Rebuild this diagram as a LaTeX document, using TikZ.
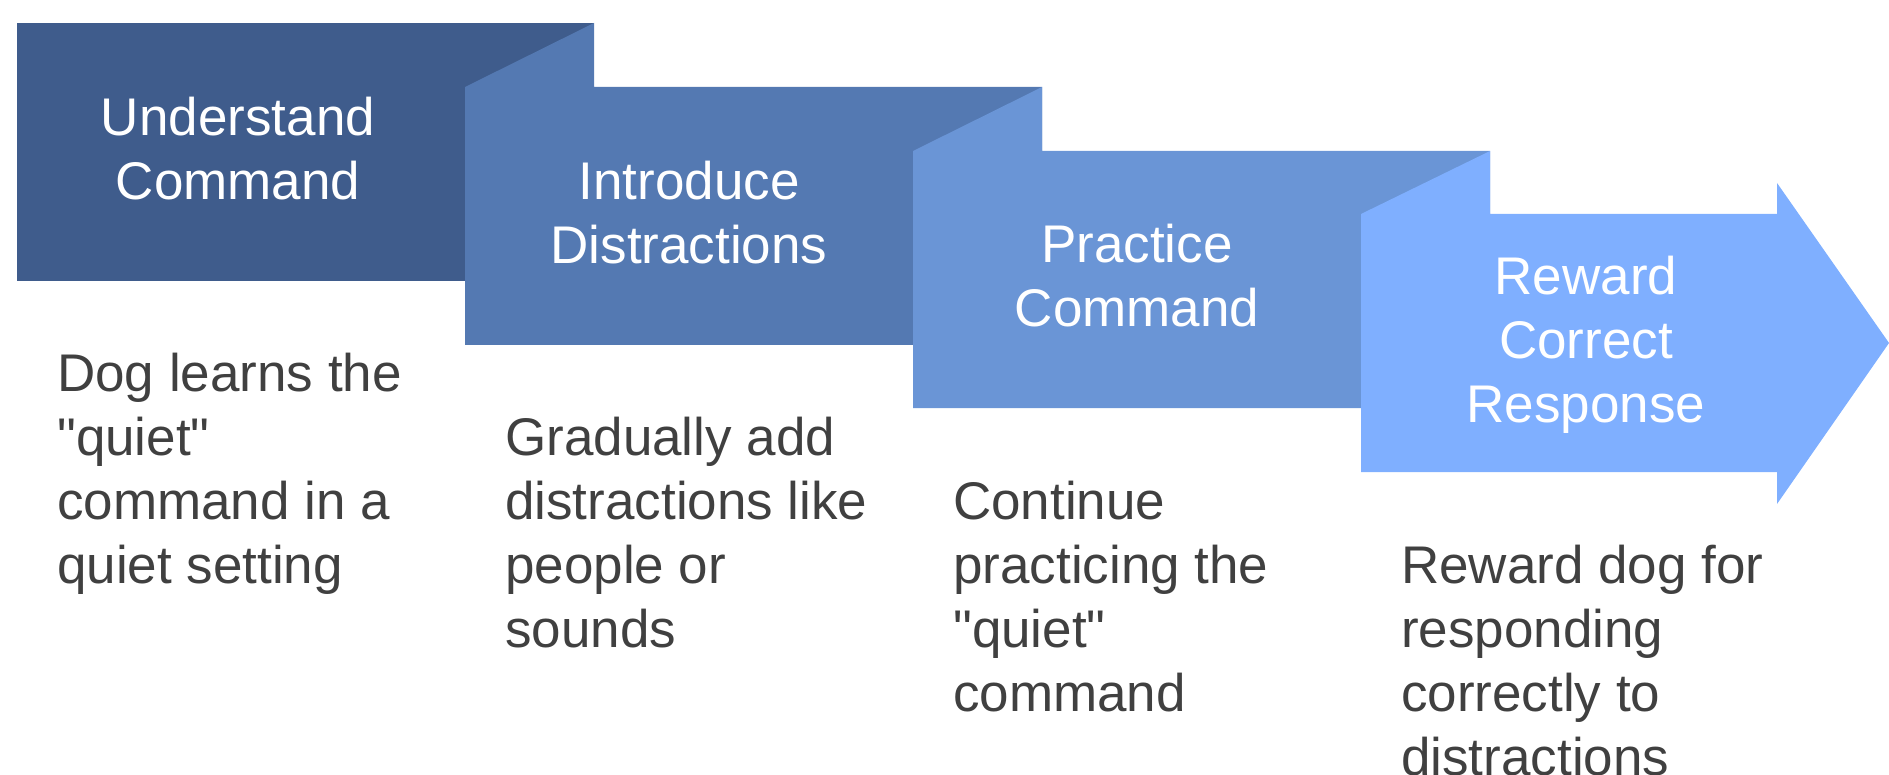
\documentclass[tikz,border=0pt]{standalone}
\usepackage{fontspec}
\setmainfont{Liberation Sans}[Ligatures=TeXOff]
\definecolor{cA}{RGB}{63,92,140}
\definecolor{cB}{RGB}{84,121,178}
\definecolor{cC}{RGB}{106,149,214}
\definecolor{cD}{RGB}{127,175,255}
\definecolor{descgray}{RGB}{64,64,64}
\begin{document}
\begin{tikzpicture}[x=1pt,y=-1pt,
  titletext/.style={anchor=base, inner sep=0pt, text=white, font=\fontsize{53}{64}\selectfont},
  desctext/.style={anchor=base west, inner sep=0pt, text=descgray, font=\fontsize{53}{64}\selectfont}]
\useasboundingbox (0,0) rectangle (1889,775);
% step shapes
\fill[cA] (17,23) rectangle (594,281);
\fill[cB] (465,345) -- (465,87) -- (594,23) -- (594,87) -- (1042,87) -- (1042,345) -- cycle;
\fill[cC] (913,408) -- (913,151) -- (1042,87) -- (1042,151) -- (1490,151) -- (1490,408) -- cycle;
\fill[cD] (1361,472) -- (1361,214) -- (1490,151) -- (1490,214) -- (1777,214) -- (1777,183)
  -- (1889,343) -- (1777,504) -- (1777,472) -- cycle;
% titles
\node[titletext] (t1) at (238,136) {\parbox[t]{440pt}{\centering Understand\\Command}};
\node[titletext] (t2) at (689,200) {\parbox[t]{440pt}{\centering Introduce\\Distractions}};
\node[titletext] (t3) at (1137,263) {\parbox[t]{440pt}{\centering Practice\\Command}};
\node[titletext] (t4) at (1586,295) {\parbox[t]{440pt}{\centering Reward\\Correct\\Response}};
% descriptions
\node[desctext] (d1) at (57,391) {\parbox[t]{420pt}{\raggedright Dog learns the\\"quiet"\\command in a\\quiet setting}};
\node[desctext] (d2) at (505,455) {\parbox[t]{420pt}{\raggedright Gradually add\\distractions like\\people or\\sounds}};
\node[desctext] (d3) at (953,519) {\parbox[t]{420pt}{\raggedright Continue\\practicing the\\"quiet"\\command}};
\node[desctext] (d4) at (1401,583) {\parbox[t]{420pt}{\raggedright Reward dog for\\responding\\correctly to\\distractions}};
\end{tikzpicture}
\end{document}
